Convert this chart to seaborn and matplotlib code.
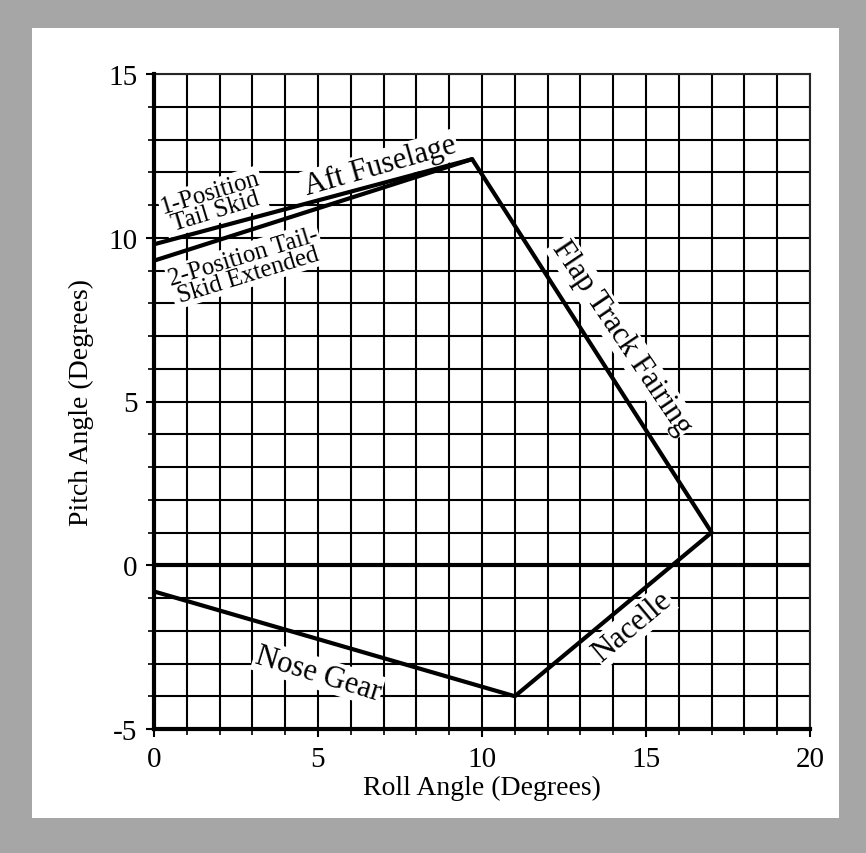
import matplotlib
matplotlib.use("Agg")
import matplotlib.pyplot as plt
import matplotlib.patches as patches
from matplotlib.ticker import MultipleLocator
import seaborn as sns
import pandas as pd

# outline of the clearance envelope (roll, pitch)
outline_roll = [0, 11, 17, 9.7, 0]
outline_pitch = [-0.8, -4, 1, 12.4, 9.8]

# 2-position tail skid extended
skid2_roll = [0, 9.7]
skid2_pitch = [9.3, 12.4]

x_ticks = [0, 5, 10, 15, 20]
y_ticks = [-5, 0, 5, 10, 15]

sns.set_style("white")
plt.rcParams['font.family'] = ['Liberation Serif', 'DejaVu Serif']
plt.rcParams['axes.unicode_minus'] = False
plt.rcParams['text.color'] = 'black'
plt.rcParams['axes.labelcolor'] = 'black'
plt.rcParams['xtick.color'] = 'black'
plt.rcParams['ytick.color'] = 'black'

fig = plt.figure(figsize=(8.66, 8.54), dpi=100)
fig.patch.set_facecolor('#a6a6a6')
fig.add_artist(patches.Rectangle((32 / 866, 1 - 819 / 854), (839 - 32) / 866, (819 - 29) / 854,
                                 transform=fig.transFigure, facecolor='white', edgecolor='none', zorder=0))

ax = fig.add_axes([154 / 866, 1 - 730 / 854, (810 - 154) / 866, (730 - 75) / 854])
ax.set_facecolor('white')

df_outline = pd.DataFrame({"roll": outline_roll, "pitch": outline_pitch})
df_skid2 = pd.DataFrame({"roll": skid2_roll, "pitch": skid2_pitch})

sns.lineplot(data=df_outline, x="roll", y="pitch", sort=False, estimator=None,
             color='black', lw=3, ax=ax, zorder=5)
sns.lineplot(data=df_skid2, x="roll", y="pitch", sort=False, estimator=None,
             color='black', lw=3, ax=ax, zorder=5)

ax.axhline(0, color='black', lw=3, zorder=4)

ax.set_xlim(0, 20)
ax.set_ylim(-5, 15)
ax.set_xticks(x_ticks)
ax.set_yticks(y_ticks)
ax.xaxis.set_minor_locator(MultipleLocator(1))
ax.yaxis.set_minor_locator(MultipleLocator(1))
ax.grid(which='both', color='black', lw=1.5, zorder=1)
ax.set_axisbelow(True)

for side in ['top', 'right']:
    ax.spines[side].set_linewidth(1.5)
for side in ['left', 'bottom']:
    ax.spines[side].set_linewidth(3)
    ax.spines[side].set_zorder(6)
    ax.spines[side].set_color('black')

ax.tick_params(which='major', direction='out', length=6, width=1.5, labelsize=21, color='black', pad=6,
               left=True, bottom=True)
ax.tick_params(which='minor', direction='out', length=4, width=1.2, color='black', left=True, bottom=True)

ax.set_xlabel("Roll Angle (Degrees)", fontsize=20, labelpad=2)
ax.set_ylabel("Pitch Angle (Degrees)", fontsize=20, labelpad=10)

box = dict(facecolor='white', edgecolor='none', pad=1)
ax.text(6.9, 12.2, "Aft Fuselage", fontsize=22, rotation=16, ha='center', va='center', bbox=box, zorder=3)
ax.text(1.8, 11.1, "1-Position\nTail Skid", fontsize=18, rotation=17, ha='center', va='center',
        linespacing=0.85, bbox=box, zorder=3)
ax.text(2.8, 9.15, "2-Position Tail-\nSkid Extended", fontsize=18, rotation=17, ha='center', va='center',
        linespacing=0.85, bbox=box, zorder=3)
ax.text(14.27, 6.97, "Flap Track Fairing", fontsize=22, rotation=-56, ha='center', va='center',
        bbox=box, zorder=3)
ax.text(14.57, -1.87, "Nacelle", fontsize=22, rotation=40, ha='center', va='center', bbox=box, zorder=3)
ax.text(5.0, -3.3, "Nose Gear", fontsize=22, rotation=-17, ha='center', va='center', bbox=box, zorder=3)

plt.savefig("out.png", dpi=100, facecolor=fig.get_facecolor())
